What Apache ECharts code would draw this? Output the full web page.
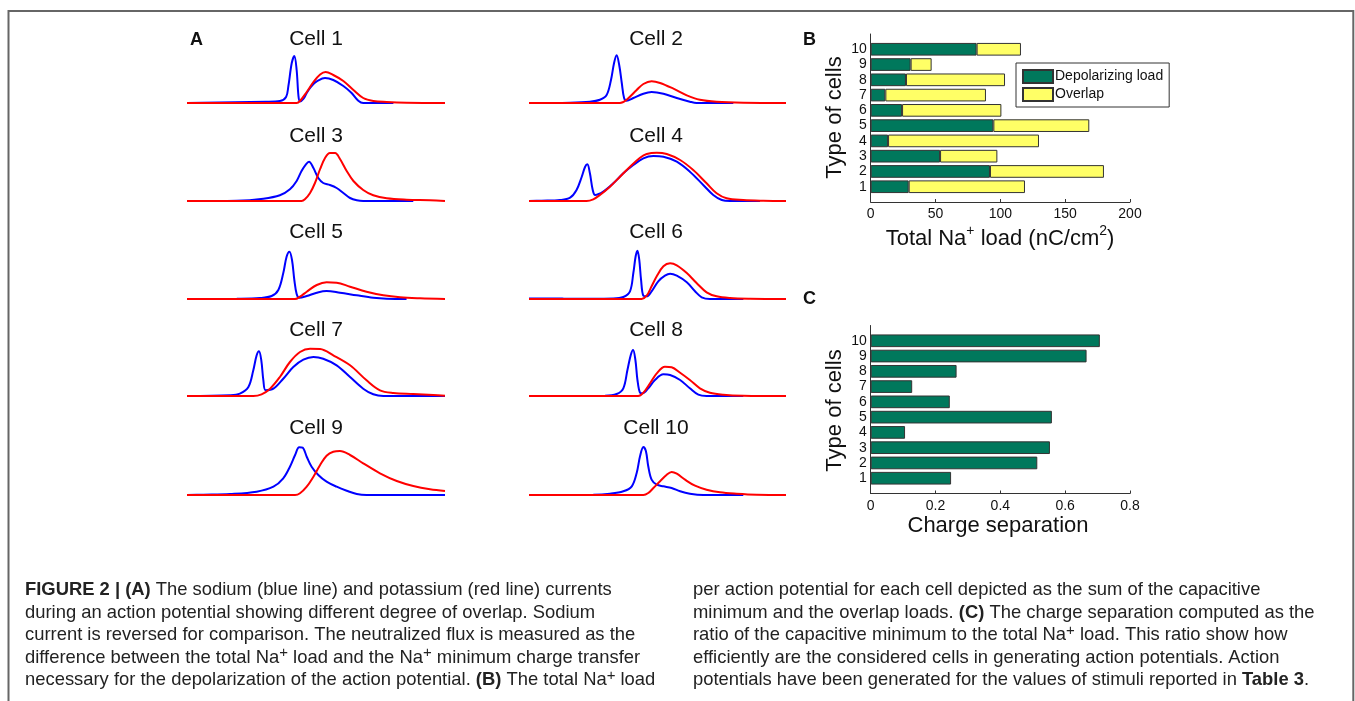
<!DOCTYPE html>
<html>
<head>
<meta charset="utf-8">
<script src="https://cdn.jsdelivr.net/npm/echarts@6/dist/echarts.min.js"></script>
<style>
html,body{margin:0;padding:0;background:#fff;}
#chart{width:1355px;height:701px;}
</style>
</head>
<body>
<div id="chart"></div>
<script>
// ---------- Panel B / C data ----------
const categories = ['1','2','3','4','5','6','7','8','9','10'];
const depolarizingLoad = [29.3, 92.0, 53.5, 13.4, 94.6, 24.2, 11.3, 27.2, 30.8, 81.7];
const overlapLoad      = [89.7, 87.9, 44.2, 116.4, 74.0, 76.6, 77.6, 76.4, 16.2, 34.2];
const chargeSeparation = [0.248, 0.514, 0.553, 0.106, 0.559, 0.244, 0.128, 0.265, 0.666, 0.707];
const loadTicks = [0, 50, 100, 150, 200];
const separationTicks = [0, 0.2, 0.4, 0.6, 0.8];

// ---------- Panel A data: [time (normalized), current (a.u.)] ----------
const cellNames = ['Cell 1','Cell 2','Cell 3','Cell 4','Cell 5','Cell 6','Cell 7','Cell 8','Cell 9','Cell 10'];

const cell1Na = [[0,0],[30.6,1.3],[36.0,2],[38.4,6],[39.3,17],[40.6,40],[41.6,47],[42.5,33],[43.2,7],[43.8,1.5],[45.1,4],[46.4,10],[47.7,15],[49.0,19],[50.3,21.7],[53.5,25],[56.7,23],[60.6,17],[63.8,10],[66.4,2.3],[68.3,0],[80,0]];
const cell1K  = [[0,0],[42.5,0],[43.8,2],[46.4,11],[49.0,21],[51.6,28.5],[53.7,31],[56.7,28],[60.6,22],[64.5,13],[68.3,5],[72.2,2],[77.4,1],[85.1,0.3],[100,0]];

const cell2Na = [[0,0],[16.0,0.3],[23.7,1.3],[27.6,3.3],[30.2,8],[31.9,23],[33.1,40],[34.1,47.7],[35.1,38],[36.1,20],[37.0,5],[38.0,2.3],[40.6,5],[44.5,9.3],[47.7,11],[52.3,9.3],[57.5,5],[62.6,1.3],[65.2,0],[79.5,0]];
const cell2K  = [[0,0],[35.4,0],[38.0,3.3],[41.9,13],[44.5,19],[47.7,21.7],[51.0,20],[56.2,14.3],[61.4,7.7],[66.5,3.3],[73.0,1.3],[83.4,0.3],[100,0]];

const cell3Na = [[0,0],[19.3,0.3],[29.6,2.3],[36.0,5.7],[39.9,11.7],[42.5,20],[44.4,30],[46.1,36.7],[47.3,39.3],[49.0,33],[50.9,23],[52.8,18],[55.4,16],[58.0,13],[60.6,8],[63.2,3],[65.8,0.7],[68.3,0],[87.7,0]];
const cell3K  = [[0,0],[44.4,0],[45.7,1.7],[47.7,8],[49.6,18],[51.6,32],[53.5,43],[55.4,48],[57.4,48],[59.3,42],[61.9,30],[64.5,20],[68.3,11],[72.2,5.7],[77.4,2.7],[85.1,1.3],[94.2,0.7],[100,0]];

const cell4Na = [[0,0],[4.9,0.3],[12.1,1],[16.0,3.3],[18.5,11],[20.5,24],[21.8,34],[22.7,36.7],[23.7,27.7],[24.8,11],[25.7,6],[28.9,9.3],[32.8,17.7],[36.7,27.7],[40.6,36],[44.5,42.7],[48.4,45],[52.3,44.3],[57.5,39.3],[62.6,29.3],[67.8,16],[71.7,6],[75.0,1],[78.2,0],[89.9,0]];
const cell4K  = [[0,0],[22.4,0],[25.0,1.7],[27.6,6],[31.5,14.3],[35.4,24.3],[39.3,34.3],[43.2,43.3],[45.8,47],[49.7,48.3],[53.6,47],[58.8,41],[63.9,31],[69.1,17.7],[73.0,7.7],[76.9,2.7],[83.4,1],[91.2,0.3],[100,0]];

const cell5Na = [[0,0],[19.3,0.3],[28.3,1],[32.8,3],[35.4,9],[37.3,25.7],[38.6,42.3],[39.7,47.3],[40.7,39],[41.6,19],[42.5,5],[43.5,1.3],[46.4,3],[50.3,6.3],[54.1,8],[59.3,6.3],[65.8,3.7],[72.2,1.3],[77.4,0.3],[85.1,0]];
const cell5K  = [[0,0],[41.9,0],[43.8,2.3],[46.4,7.3],[50.3,14],[54.1,16.7],[58.0,16.3],[63.2,12.3],[69.6,7.3],[76.1,3.7],[82.6,1.7],[90.3,0.7],[100,0]];

const cell6Na = [[0,0.6],[13.0,0.6],[14.0,0.2],[32.8,0.5],[36.7,2],[39.3,7.7],[40.6,26],[41.5,42.7],[42.2,48.3],[42.9,39.3],[43.6,19.3],[44.5,3.3],[45.8,2.7],[47.7,7.7],[50.3,17.7],[52.9,23.3],[54.9,25.3],[57.5,23.3],[61.4,16.7],[64.6,7.7],[67.2,1.7],[70.4,0],[83.4,0]];
const cell6K  = [[0,0],[43.8,0],[45.8,3.3],[47.7,12.7],[49.7,22.7],[52.3,32.7],[54.9,35.7],[57.5,33.7],[61.4,26],[65.2,16],[69.1,6.7],[73.0,2.7],[78.2,1],[86.0,0.3],[100,0]];

const cell7Na = [[0,0],[16.7,0.7],[20.5,2.3],[23.8,9],[25.7,25.7],[27.0,40.7],[27.9,44.7],[28.8,35.7],[29.6,15.7],[30.5,5.7],[33.5,7.3],[37.3,17.3],[41.2,29],[45.1,36.3],[49.0,39],[52.8,37.3],[58.0,30.7],[63.2,19],[68.3,7.3],[72.2,1.7],[76.1,0],[100,0]];
const cell7K  = [[0,0],[25.7,0],[28.9,1.7],[32.2,7.3],[36.0,19],[39.9,34],[43.8,44],[47.7,47.3],[51.6,47],[56.7,40.7],[63.2,30.7],[69.6,15.7],[74.8,5.7],[80.0,3],[87.7,2],[95.5,1],[100,0.3]];

const cell8Na = [[0,0],[29.6,0.3],[34.1,2],[36.7,7.7],[38.3,26],[39.6,41],[40.5,46],[41.4,36],[42.2,16],[43.2,3.3],[44.2,2.7],[46.4,7.7],[49.0,16],[52.3,21.7],[54.9,21],[58.8,16],[62.6,7.7],[65.9,1.3],[69.1,0],[83.4,0]];
const cell8K  = [[0,0],[42.5,0],[44.5,3.3],[47.1,12.7],[49.7,22.7],[52.9,29.3],[55.5,28.7],[58.8,23.3],[62.6,16],[66.5,7.7],[70.4,3.3],[75.6,1.3],[83.4,0.3],[100,0]];

const cell9Na = [[0,0],[6.3,0.3],[16.7,1],[27.0,3.3],[33.5,8.3],[37.3,16.7],[39.9,28.3],[41.9,40],[43.5,47.7],[44.8,47.3],[46.4,38.3],[48.3,28.3],[50.9,20],[54.1,13.3],[58.0,8.3],[61.9,4.3],[65.8,1],[69.6,0],[100,0]];
const cell9K  = [[0,0],[41.9,0],[43.8,1.7],[46.4,8.3],[49.0,18.3],[51.6,30],[54.1,39.3],[56.7,43.3],[59.3,44],[63.2,40],[68.3,31.7],[74.8,21.7],[81.3,14],[87.7,9],[94.2,5.7],[100,4]];

const cell10Na = [[0,0],[25.0,0.3],[31.5,1.3],[36.7,3.7],[40.0,8.7],[41.9,22],[43.2,38.7],[44.5,48],[45.5,43.7],[46.4,28.7],[47.7,15.3],[49.7,10.3],[52.3,8.7],[55.5,7],[58.8,3.7],[62.6,1.3],[67.8,0],[83.4,0]];
const cell10K  = [[0,0],[44.5,0],[46.4,2],[48.4,7],[51.0,13.7],[53.6,20.3],[55.5,23],[57.5,21.3],[60.7,15.3],[64.6,9.3],[69.1,5.3],[74.3,2.7],[80.8,1.3],[88.6,0.3],[100,0]];

const cellNa = [cell1Na,cell2Na,cell3Na,cell4Na,cell5Na,cell6Na,cell7Na,cell8Na,cell9Na,cell10Na];
const cellK  = [cell1K,cell2K,cell3K,cell4K,cell5K,cell6K,cell7K,cell8K,cell9K,cell10K];

// ---------- Layout ----------
const FONT = 'Liberation Sans, Arial, Helvetica, sans-serif';
const GREEN = '#00785c';
const YELLOW = '#ffff66';
const colLeft = [187, 529], colWidth = [258, 257];
const rowBase = [103, 201, 299, 396, 495];
const titleY = [39, 136.5, 232, 330, 428.5];
const titleX = [316, 656];

const grid = [], xAxis = [], yAxis = [], series = [], graphic = [];

for (let i = 0; i < 10; i++) {
  const c = i % 2, r = Math.floor(i / 2);
  grid.push({left: colLeft[c], top: rowBase[r] - 50, width: colWidth[c], height: 50});
  xAxis.push({gridIndex: i, type: 'value', min: 0, max: 100, show: false});
  yAxis.push({gridIndex: i, type: 'value', min: 0, max: 50, show: false});
  series.push({type: 'line', xAxisIndex: i, yAxisIndex: i, data: cellNa[i], showSymbol: false,
    smooth: 0.35, clip: false, lineStyle: {color: '#0000ff', width: 2}, itemStyle: {color: '#0000ff'}, z: 2, silent: true});
  series.push({type: 'line', xAxisIndex: i, yAxisIndex: i, data: cellK[i], showSymbol: false,
    smooth: 0.35, clip: false, lineStyle: {color: '#ff0000', width: 2}, itemStyle: {color: '#ff0000'}, z: 3, silent: true});
  graphic.push({type: 'text', silent: true, style: {text: cellNames[i], x: titleX[c], y: titleY[r],
    fontSize: 21, fontFamily: FONT, fill: '#111', align: 'center', verticalAlign: 'middle',
    textAlign: 'center', textVerticalAlign: 'middle'}});
}

const padCats = [''].concat(categories, ['']);
const pad = arr => [null].concat(arr, [null]);
const axisColor = '#333';

// Panel B grid (index 10)
grid.push({left: 870.7, top: 34, width: 259.3, height: 168});
xAxis.push({gridIndex: 10, type: 'value', min: loadTicks[0], max: loadTicks[loadTicks.length - 1],
  interval: loadTicks[1] - loadTicks[0],
  axisLine: {show: true, lineStyle: {color: axisColor, width: 1}},
  axisTick: {show: true, inside: true, length: 3, lineStyle: {color: axisColor}},
  axisLabel: {fontSize: 14, fontFamily: FONT, color: '#111', margin: 5},
  splitLine: {show: false}});
yAxis.push({gridIndex: 10, type: 'category', data: padCats, boundaryGap: false,
  axisLine: {show: true, lineStyle: {color: axisColor, width: 1}},
  axisTick: {show: false},
  axisLabel: {fontSize: 14, fontFamily: FONT, color: '#111', margin: 4, interval: 0},
  splitLine: {show: false}});

// Panel C grid (index 11)
grid.push({left: 870.7, top: 325.5, width: 259.3, height: 168});
xAxis.push({gridIndex: 11, type: 'value', min: separationTicks[0], max: separationTicks[separationTicks.length - 1],
  interval: 0.2,
  axisLine: {show: true, lineStyle: {color: axisColor, width: 1}},
  axisTick: {show: true, inside: true, length: 3, lineStyle: {color: axisColor}},
  axisLabel: {fontSize: 14, fontFamily: FONT, color: '#111', margin: 6},
  splitLine: {show: false}});
yAxis.push({gridIndex: 11, type: 'category', data: padCats, boundaryGap: false,
  axisLine: {show: true, lineStyle: {color: axisColor, width: 1}},
  axisTick: {show: false},
  axisLabel: {fontSize: 14, fontFamily: FONT, color: '#111', margin: 4, interval: 0},
  splitLine: {show: false}});

series.push({name: 'Depolarizing load', type: 'bar', xAxisIndex: 10, yAxisIndex: 10, stack: 'load',
  data: pad(depolarizingLoad), barWidth: '83%',
  itemStyle: {color: GREEN, borderColor: '#333', borderWidth: 1}, silent: true});
series.push({name: 'Overlap', type: 'bar', xAxisIndex: 10, yAxisIndex: 10, stack: 'load',
  data: pad(overlapLoad), barWidth: '83%',
  itemStyle: {color: YELLOW, borderColor: '#333', borderWidth: 1}, silent: true});
series.push({name: 'Charge separation', type: 'bar', xAxisIndex: 11, yAxisIndex: 11,
  data: pad(chargeSeparation), barWidth: '83%',
  itemStyle: {color: GREEN, borderColor: '#333', borderWidth: 1}, silent: true});

// ---------- Text ----------
function txt(text, x, y, opts) {
  const o = opts || {};
  graphic.push({type: 'text', silent: true, rotation: o.rotation || 0, x: x, y: y,
    style: {text: text, x: 0, y: 0, fontSize: o.fontSize || 16, fontFamily: FONT,
      fontWeight: o.fontWeight || 'normal', fill: o.fill || '#111',
      align: o.align || 'left', verticalAlign: 'middle', textAlign: o.align || 'left', textVerticalAlign: 'middle',
      lineHeight: o.lineHeight, rich: o.rich}});
}

// panel letters
txt('A', 190, 40, {fontSize: 18, fontWeight: 'bold'});
txt('B', 803, 40, {fontSize: 18, fontWeight: 'bold'});
txt('C', 803, 299, {fontSize: 18, fontWeight: 'bold'});

// axis titles
const titleRich = {sup: {fontSize: 14, fontFamily: FONT, verticalAlign: 'top', lineHeight: 12, fill: '#111'}};
txt('Total Na{sup|+} load (nC/cm{sup|2})', 1000, 239, {fontSize: 22, align: 'center', lineHeight: 30, rich: titleRich});
txt('Charge separation', 998, 526, {fontSize: 22, align: 'center'});
txt('Type of cells', 834.5, 117.5, {fontSize: 22, align: 'center', rotation: Math.PI / 2});
txt('Type of cells', 834.5, 410.5, {fontSize: 22, align: 'center', rotation: Math.PI / 2});

// caption
const CAP = 18.4;
const capRich = {
  b: {fontWeight: 'bold', fontSize: CAP, fontFamily: FONT, fill: '#222', lineHeight: 24},
  sup: {fontSize: 15, fontFamily: FONT, fill: '#222', verticalAlign: 'top', lineHeight: 18}
};
const capLeft = [
  '{b|FIGURE 2 | (A)} The sodium (blue line) and potassium (red line) currents',
  'during an action potential showing different degree of overlap. Sodium',
  'current is reversed for comparison. The neutralized flux is measured as the',
  'difference between the total Na{sup|+} load and the Na{sup|+} minimum charge transfer',
  'necessary for the depolarization of the action potential. {b|(B)} The total Na{sup|+} load'
];
const capRight = [
  'per action potential for each cell depicted as the sum of the capacitive',
  'minimum and the overlap loads. {b|(C)} The charge separation computed as the',
  'ratio of the capacitive minimum to the total Na{sup|+} load. This ratio show how',
  'efficiently are the considered cells in generating action potentials. Action',
  'potentials have been generated for the values of stimuli reported in {b|Table 3}.'
];
const capY = [590, 612.5, 635, 657.5, 680];
capLeft.forEach((t, k) => txt(t, 25, capY[k], {fontSize: CAP, fill: '#222', lineHeight: 24, rich: capRich}));
capRight.forEach((t, k) => txt(t, 693, capY[k], {fontSize: CAP, fill: '#222', lineHeight: 24, rich: capRich}));

// frame
graphic.push({type: 'rect', silent: true, z: -1,
  shape: {x: 8.5, y: 11, width: 1344.8, height: 800},
  style: {fill: 'none', stroke: '#666', lineWidth: 2}});

const chart = echarts.init(document.getElementById('chart'), null, {renderer: 'canvas'});
chart.setOption({
  animation: false,
  backgroundColor: '#ffffff',
  grid: grid,
  xAxis: xAxis,
  yAxis: yAxis,
  legend: {
    data: ['Depolarizing load', 'Overlap'],
    orient: 'vertical', left: 1016, top: 63,
    itemWidth: 30, itemHeight: 13, itemGap: 3,
    padding: [6, 6, 5, 6],
    borderColor: '#333', borderWidth: 1, backgroundColor: '#fff',
    icon: 'rect', selectedMode: false,
    textStyle: {fontSize: 14, fontFamily: FONT, color: '#111', padding: [0, 0, 0, -3]}
  },
  series: series,
  graphic: {elements: graphic}
});
</script>
</body>
</html>
